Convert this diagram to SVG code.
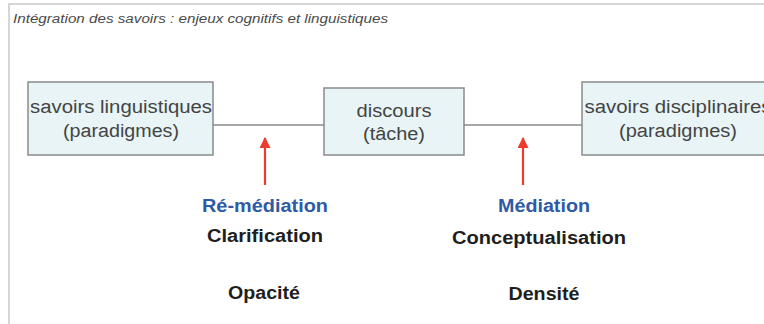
<svg xmlns="http://www.w3.org/2000/svg" width="764" height="324" viewBox="0 0 764 324">
<style>
.frame{fill:#ffffff;stroke:#d6d6d6;stroke-width:2}
.box{fill:#e8f4f6;stroke:#8a8a8a;stroke-width:1.5}
.bt{font-family:"Liberation Sans",Arial,sans-serif;font-size:18px;fill:#444444;text-anchor:middle}
.lbl{font-family:"Liberation Sans",Arial,sans-serif;font-size:17.5px;font-weight:bold;fill:#1e1e1e;text-anchor:middle}
.blue{fill:#2f5aa5}
.title{font-family:"Liberation Sans",Arial,sans-serif;font-size:12.5px;font-style:italic;fill:#4a4a4a}
.line{stroke:#8a8a8a;stroke-width:1.5;fill:none}
.arrow{stroke:#ee3b2e;stroke-width:2.2;fill:none}
</style>
<defs>
<marker id="ah" viewBox="0 0 10 10" refX="9" refY="5" markerWidth="5" markerHeight="5" orient="auto" markerUnits="strokeWidth">
<path d="M0,0 L10,5 L0,10 z" fill="#ee3b2e"/>
</marker>
</defs>
<rect x="0" y="0" width="764" height="324" fill="#ffffff"/>
<rect class="frame" x="9" y="4" width="770" height="330"/>
<text class="title" x="13" y="23" textLength="375" lengthAdjust="spacingAndGlyphs">Intégration des savoirs : enjeux cognitifs et linguistiques</text>
<g id="connectors">
<line class="line" x1="213" y1="125" x2="324" y2="125"/>
<line class="line" x1="464" y1="125" x2="582" y2="125"/>
<line class="arrow" x1="265" y1="185" x2="265" y2="138" marker-end="url(#ah)"/>
<line class="arrow" x1="523" y1="185" x2="523" y2="138" marker-end="url(#ah)"/>
</g>
<g id="node-linguistiques">
<rect class="box" x="28" y="82" width="185" height="73"/>
<text class="bt" x="121" y="113" textLength="182" lengthAdjust="spacingAndGlyphs">savoirs linguistiques</text>
<text class="bt" x="121" y="137" textLength="116" lengthAdjust="spacingAndGlyphs">(paradigmes)</text>
</g>
<g id="node-discours">
<rect class="box" x="324" y="88" width="140" height="67"/>
<text class="bt" x="394" y="117" textLength="75" lengthAdjust="spacingAndGlyphs">discours</text>
<text class="bt" x="394" y="140" textLength="62" lengthAdjust="spacingAndGlyphs">(tâche)</text>
</g>
<g id="node-disciplinaires">
<rect class="box" x="582" y="82" width="192" height="73"/>
<text class="bt" x="678" y="113" textLength="187" lengthAdjust="spacingAndGlyphs">savoirs disciplinaires</text>
<text class="bt" x="678" y="137" textLength="118" lengthAdjust="spacingAndGlyphs">(paradigmes)</text>
</g>
<g id="label-remediation">
<text class="lbl blue" x="265" y="212" textLength="126" lengthAdjust="spacingAndGlyphs">Ré-médiation</text>
<text class="lbl" x="265" y="242" textLength="116" lengthAdjust="spacingAndGlyphs">Clarification</text>
<text class="lbl" x="264" y="299" textLength="72" lengthAdjust="spacingAndGlyphs">Opacité</text>
</g>
<g id="label-mediation">
<text class="lbl blue" x="544" y="212" textLength="92" lengthAdjust="spacingAndGlyphs">Médiation</text>
<text class="lbl" x="539" y="244" textLength="174" lengthAdjust="spacingAndGlyphs">Conceptualisation</text>
<text class="lbl" x="544" y="300" textLength="71" lengthAdjust="spacingAndGlyphs">Densité</text>
</g>
</svg>
